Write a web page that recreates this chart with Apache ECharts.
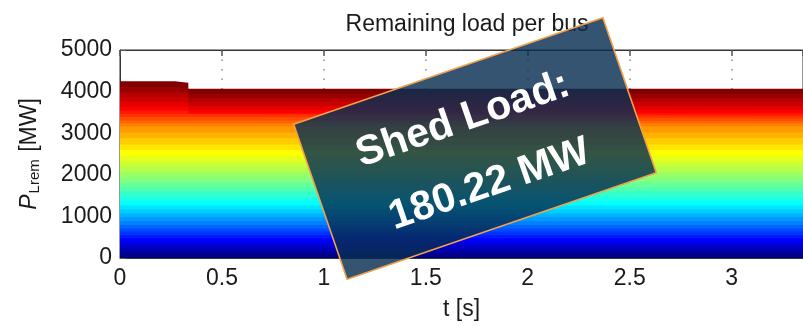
<!DOCTYPE html>
<html>
<head>
<meta charset="utf-8">
<script src="https://cdn.jsdelivr.net/npm/echarts@6/dist/echarts.min.js"></script>
<style>
  html, body { margin: 0; padding: 0; background: #ffffff; }
  #chart { width: 803px; height: 326px; }
</style>
</head>
<body>
<div id="chart"></div>
<script>
// Simulation time instants where the load per bus changes [s]
const timePoints = [0, 0.27, 0.335, 3.35];

// Initial load of every bus [MW], bottom of the stack first
const busLoad = [
  85, 72, 90, 78, 68,
  84, 70, 88, 76, 80,
  92, 101, 86, 97, 94,
  110, 98, 121, 104, 115,
  128, 121, 135, 124, 132,
  146, 132, 151, 138, 143,
  78, 71, 84, 69, 76,
  98, 112, 121, 117, 128, 137
];

// Load shedding: which bus, how much [MW] and when [s]
const shedBus  = [31, 32, 33, 34, 35, 36, 37, 38, 39, 40];
const shedMW   = [14.6, 17.3, 12.9, 20.4, 15.8, 18.2, 21.5, 19.7, 22.1, 17.72];
const shedTime = [0.335, 0.335, 0.335, 0.335, 0.335, 0.335, 0.335, 0.335, 0.27, 0.27];

// Axis ranges and tick spacing
const xRange = [0, 3.35];
const xStep = 0.5;
const yRange = [0, 5000];
const yStep = 1000;

const FONT = '"Liberation Sans", Arial, Helvetica, sans-serif';
const TEXT = '#1a1a1a';
const FS = 23;

// MATLAB "jet" colour map
function jet(t) {
  const c = v => Math.round(255 * Math.max(0, Math.min(1, v)));
  const r = c(1.5 - Math.abs(4 * t - 3));
  const g = c(1.5 - Math.abs(4 * t - 2));
  const b = c(1.5 - Math.abs(4 * t - 1));
  return 'rgb(' + r + ',' + g + ',' + b + ')';
}

// Load of bus i at time t, after any shedding that already happened
function loadAt(i, t) {
  let v = busLoad[i];
  shedBus.forEach((b, k) => { if (b === i && t >= shedTime[k]) v -= shedMW[k]; });
  return v;
}

// Cumulative (stacked) load up to and including bus i
const nBus = busLoad.length;
const cumulative = [];
for (let i = 0; i < nBus; i++) {
  cumulative.push(timePoints.map((t, k) => {
    const below = i > 0 ? cumulative[i - 1][k][1] : 0;
    return [t, below + loadAt(i, t)];
  }));
}

// Upper buses first, so each lower band is painted over the ones above it
const series = [];
for (let i = nBus - 1; i >= 0; i--) {
  const col = jet(i / (nBus - 1));
  series.push({
    type: 'line',
    name: 'Bus ' + (i + 1),
    data: cumulative[i],
    step: 'end',
    showSymbol: false,
    silent: true,
    lineStyle: { width: 0, color: col },
    areaStyle: { color: col, opacity: 1 },
    z: 2
  });
}

const shedTotal = shedMW.reduce((a, b) => a + b, 0);

const chart = echarts.init(document.getElementById('chart'), null, { renderer: 'canvas' });
chart.setOption({
  animation: false,
  backgroundColor: '#ffffff',
  title: {
    text: 'Remaining load per bus',
    left: 462,
    top: 8,
    textAlign: 'center',
    textStyle: { fontFamily: FONT, fontSize: FS, fontWeight: 'normal', color: TEXT }
  },
  grid: {
    left: 120, top: 50, width: 684, height: 214,
    show: true, borderColor: '#333', borderWidth: 1, backgroundColor: 'transparent'
  },
  xAxis: [{
    type: 'value',
    position: 'bottom',
    min: xRange[0], max: xRange[1], interval: xStep,
    name: 't [s]',
    nameLocation: 'middle',
    nameGap: 40,
    nameTextStyle: { fontFamily: FONT, fontSize: FS, color: TEXT },
    axisLine: { show: true, onZero: false, lineStyle: { color: '#333', width: 1 } },
    axisTick: { show: true, inside: true, length: 6, lineStyle: { color: '#555' } },
    axisLabel: { fontFamily: FONT, fontSize: FS, color: TEXT, margin: 9, showMaxLabel: false,
                 formatter: v => String(v) },
    splitLine: { show: true, lineStyle: { color: '#8a8a8a', width: 1.5, type: [1.5, 8] } }
  }, {
    type: 'value',
    position: 'top',
    min: xRange[0], max: xRange[1], interval: xStep,
    axisLine: { show: true, onZero: false, lineStyle: { color: '#333', width: 1 } },
    axisTick: { show: true, inside: true, length: 6, lineStyle: { color: '#555', width: 1.5 } },
    axisLabel: { show: false },
    splitLine: { show: false }
  }],
  yAxis: {
    type: 'value',
    min: yRange[0], max: yRange[1], interval: yStep,
    name: '{i|P}{s|Lrem} [MW]',
    nameLocation: 'middle',
    nameGap: 78,
    nameTextStyle: {
      fontFamily: FONT, fontSize: FS, color: TEXT,
      rich: {
        i: { fontFamily: FONT, fontSize: FS, fontStyle: 'italic', color: TEXT },
        s: { fontFamily: FONT, fontSize: 15, color: TEXT, padding: [9, 1, 0, 1] }
      }
    },
    axisLine: { show: true, onZero: false, lineStyle: { color: '#333', width: 1 } },
    axisTick: { show: true, inside: true, length: 6, lineStyle: { color: '#555' } },
    axisLabel: { fontFamily: FONT, fontSize: FS, color: TEXT, margin: 8,
                 formatter: v => String(v) },
    splitLine: { show: false }
  },
  series: series,
  graphic: [{
    type: 'group',
    x: 475, y: 148.5,
    rotation: 19 * Math.PI / 180,
    z: 100,
    children: [{
      type: 'rect',
      z: 100,
      shape: { x: -163.5, y: -82, width: 327, height: 164 },
      style: { fill: 'rgba(7,46,83,0.82)', stroke: '#f2a049', lineWidth: 1.6 }
    }, {
      type: 'text',
      z: 101,
      x: -2, y: -31,
      style: {
        text: 'Shed Load:',
        fill: '#ffffff',
        font: 'bold 41px ' + FONT,
        align: 'center', verticalAlign: 'middle',
        shadowColor: 'rgba(0,0,0,0.55)', shadowBlur: 3, shadowOffsetX: 2, shadowOffsetY: 2
      }
    }, {
      type: 'text',
      z: 101,
      x: 2, y: 39,
      style: {
        text: shedTotal.toFixed(2) + ' MW',
        fill: '#ffffff',
        font: 'bold 41px ' + FONT,
        align: 'center', verticalAlign: 'middle',
        shadowColor: 'rgba(0,0,0,0.55)', shadowBlur: 3, shadowOffsetX: 2, shadowOffsetY: 2
      }
    }]
  }]
});
</script>
</body>
</html>
